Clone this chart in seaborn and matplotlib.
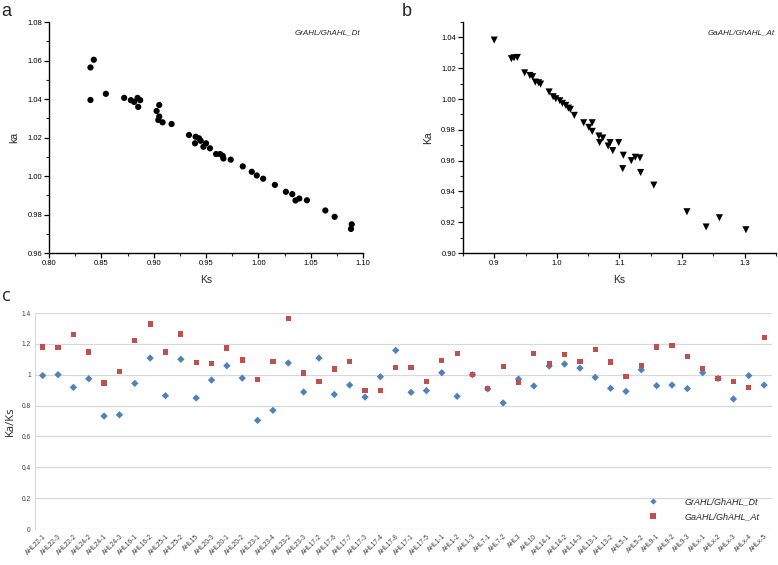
import numpy as np
import pandas as pd
import matplotlib
matplotlib.use("Agg")
import matplotlib.pyplot as plt
from matplotlib.ticker import MultipleLocator, FormatStrFormatter
import seaborn as sns

# panel a: GrAHL/GhAHL_Dt
ks_dt = [0.8396, 0.8428, 0.8396, 0.8543, 0.8718, 0.8782, 0.8814, 0.8846, 0.8871, 0.8852,
         0.9053, 0.9028, 0.9053, 0.9044, 0.9085, 0.9171, 0.9337, 0.9401, 0.9433, 0.9395,
         0.9449, 0.9500, 0.9475, 0.9538, 0.9596, 0.9634, 0.9660, 0.9666, 0.9736, 0.9851,
         0.9937, 0.9985, 1.0046, 1.0158, 1.0263, 1.0324, 1.0355, 1.0391, 1.0464, 1.0640,
         1.0729, 1.0892, 1.0885]
ka_dt = [1.0564, 1.0604, 1.0395, 1.0427, 1.0406, 1.0394, 1.0385, 1.0406, 1.0394, 1.0359,
         1.0369, 1.0338, 1.0309, 1.0291, 1.0279, 1.0270, 1.0213, 1.0204, 1.0196, 1.0170,
         1.0183, 1.0170, 1.0152, 1.0144, 1.0114, 1.0114, 1.0105, 1.0091, 1.0085, 1.0050,
         1.0022, 1.0003, 0.9986, 0.9954, 0.9918, 0.9906, 0.9873, 0.9883, 0.9874, 0.9821,
         0.9788, 0.9749, 0.9725]

# panel b: GaAHL/GhAHL_At
ks_at = [0.9000, 0.9275, 0.9317, 0.9370, 0.9487, 0.9571, 0.9614, 0.9656, 0.9709, 0.9741,
         0.9878, 0.9942, 0.9984, 1.0048, 1.0090, 1.0143, 1.0185, 1.0217, 1.0280, 1.0429,
         1.0513, 1.0566, 1.0566, 1.0672, 1.0683, 1.0735, 1.0820, 1.0852, 1.0894, 1.0989,
         1.1063, 1.1053, 1.1190, 1.1254, 1.1328, 1.1339, 1.1550, 1.2079, 1.2386, 1.2598,
         1.3021]
ka_at = [1.0383, 1.0262, 1.0268, 1.0270, 1.0170, 1.0153, 1.0145, 1.0110, 1.0106, 1.0097,
         1.0046, 1.0015, 1.0002, 0.9989, 0.9972, 0.9959, 0.9941, 0.9933, 0.9894, 0.9846,
         0.9816, 0.9846, 0.9790, 0.9760, 0.9717, 0.9747, 0.9695, 0.9717, 0.9665, 0.9717,
         0.9635, 0.9548, 0.9600, 0.9622, 0.9618, 0.9523, 0.9441, 0.9268, 0.9169, 0.9229,
         0.9151]

# panel c: Ka/Ks per gene
genes = ["AHL22-1", "AHL22-3", "AHL22-2", "AHL24-2", "AHL24-1", "AHL24-3", "AHL16-1", "AHL16-2",
         "AHL25-1", "AHL25-2", "AHL15", "AHL20-3", "AHL20-1", "AHL20-2", "AHL23-1", "AHL23-4",
         "AHL23-2", "AHL23-3", "AHL17-2", "AHL17-6", "AHL17-7", "AHL17-3", "AHL17-4", "AHL17-8",
         "AHL17-1", "AHL17-5", "AHL1-1", "AHL1-2", "AHL1-3", "AHL7-1", "AHL7-2", "AHL3",
         "AHL10", "AHL14-1", "AHL14-2", "AHL14-3", "AHL13-1", "AHL13-2", "AHL5-1", "AHL5-2",
         "AHL9-1", "AHL9-2", "AHL9-3", "AHLx-1", "AHLx-2", "AHLx-3", "AHLx-4", "AHLx-5"]
ratio_dt = [0.995, 1.000, 0.918, 0.974, 0.732, 0.740, 0.944, 1.108, 0.864, 1.100,
            0.849, 0.965, 1.058, 0.978, 0.704, 0.769, 1.076, 0.888, 1.108, 0.872,
            0.933, 0.855, 0.987, 1.158, 0.886, 0.897, 1.013, 0.860, 1.000, 0.908,
            0.817, 0.972, 0.927, 1.056, 1.069, 1.043, 0.983, 0.912, 0.892, 1.032,
            0.929, 0.933, 0.910, 1.013, 0.976, 0.843, 0.994, 0.933]
ratio_at = [1.180, 1.177, 1.260, 1.147, 0.946, 1.020, 1.223, 1.329, 1.147, 1.264,
            1.080, 1.073, 1.173, 1.095, 0.968, 1.084, 1.363, 1.011, 0.955, 1.037,
            1.086, 0.896, 0.896, 1.048, 1.049, 0.958, 1.092, 1.138, 1.000, 0.910,
            1.052, 0.948, 1.140, 1.069, 1.133, 1.084, 1.166, 1.082, 0.991, 1.060,
            1.180, 1.190, 1.118, 1.040, 0.976, 0.955, 0.918, 1.239]

sns.set_style("white")
plt.rcParams['font.family'] = ['Liberation Sans', 'DejaVu Sans']

fig = plt.figure(figsize=(7.78, 5.65), dpi=100)
ax_a = fig.add_axes([0.063, 0.5522, 0.4036, 0.4088])
ax_b = fig.add_axes([0.595, 0.5522, 0.4023, 0.4088])
ax_c = fig.add_axes([0.045, 0.0637, 0.947, 0.3823])


def style_scatter_axes(ax):
    for side in ["top", "right"]:
        ax.spines[side].set_visible(False)
    for side in ["left", "bottom"]:
        ax.spines[side].set_color("black")
        ax.spines[side].set_linewidth(1.0)
    ax.tick_params(which="major", direction="out", length=3.5, width=0.9,
                   labelsize=5.5, colors="black", left=True, bottom=True, pad=1.5)
    ax.tick_params(which="minor", direction="out", length=2, width=0.8,
                   left=True, bottom=True)


sns.scatterplot(x=ks_dt, y=ka_dt, ax=ax_a, color="black", marker="o", s=20,
                edgecolor="none", linewidth=0)
ax_a.set_xlim(0.80, 1.10)
ax_a.set_ylim(0.96, 1.08)
ax_a.xaxis.set_major_locator(MultipleLocator(0.05))
ax_a.xaxis.set_minor_locator(MultipleLocator(0.025))
ax_a.yaxis.set_major_locator(MultipleLocator(0.02))
ax_a.yaxis.set_minor_locator(MultipleLocator(0.01))
ax_a.xaxis.set_major_formatter(FormatStrFormatter("%.2f"))
ax_a.yaxis.set_major_formatter(FormatStrFormatter("%.2f"))
ax_a.set_xlabel("Ks", fontsize=7.5, labelpad=6)
ax_a.set_ylabel("ka", fontsize=7.5, labelpad=6)
style_scatter_axes(ax_a)
ax_a.text(0.99, 0.97, "GrAHL/GhAHL_Dt", transform=ax_a.transAxes, ha="right", va="top",
          fontsize=5.8, style="italic")

sns.scatterplot(x=ks_at, y=ka_at, ax=ax_b, color="black", marker="v", s=26,
                edgecolor="none", linewidth=0)
ax_b.set_xlim(0.85, 1.35)
ax_b.set_ylim(0.90, 1.05)
ax_b.xaxis.set_major_locator(MultipleLocator(0.1))
ax_b.xaxis.set_minor_locator(MultipleLocator(0.05))
ax_b.yaxis.set_major_locator(MultipleLocator(0.02))
ax_b.yaxis.set_minor_locator(MultipleLocator(0.01))
ax_b.xaxis.set_major_formatter(FormatStrFormatter("%.1f"))
ax_b.yaxis.set_major_formatter(FormatStrFormatter("%.2f"))
ax_b.set_xlabel("Ks", fontsize=7.5, labelpad=6)
ax_b.set_ylabel("Ka", fontsize=7.5, labelpad=6)
style_scatter_axes(ax_b)
ax_b.text(0.995, 0.97, "GaAHL/GhAHL_At", transform=ax_b.transAxes, ha="right", va="top",
          fontsize=5.8, style="italic")

# panel c
df_c = pd.DataFrame({
    "Gene": genes * 2,
    "Ratio": ratio_dt + ratio_at,
    "Pair": ["GrAHL/GhAHL_Dt"] * len(genes) + ["GaAHL/GhAHL_At"] * len(genes),
})
ax_c.yaxis.grid(True, color="#d9d9d9", linewidth=0.9)
ax_c.set_axisbelow(True)
sns.scatterplot(data=df_c, x="Gene", y="Ratio", hue="Pair", style="Pair",
                markers={"GrAHL/GhAHL_Dt": "D", "GaAHL/GhAHL_At": "s"},
                palette={"GrAHL/GhAHL_Dt": "#4F81BD", "GaAHL/GhAHL_At": "#C0504D"},
                s=14, edgecolor="none", linewidth=0, ax=ax_c, legend=False)
ax_c.set_xlim(-0.5, len(genes) - 0.5)
ax_c.set_ylim(0, 1.4)
ax_c.set_yticks([0, 0.2, 0.4, 0.6, 0.8, 1.0, 1.2, 1.4])
ax_c.set_yticklabels(["0", "0.2", "0.4", "0.6", "0.8", "1", "1.2", "1.4"])
ax_c.set_xticks(range(len(genes)))
ax_c.set_xticklabels(genes, rotation=45, ha="right", rotation_mode="anchor")
ax_c.tick_params(axis="both", length=0, labelsize=4.8, colors="#404040", pad=3)
for side in ["top", "right", "bottom"]:
    ax_c.spines[side].set_visible(False)
ax_c.spines["left"].set_color("#d9d9d9")
ax_c.set_xlabel("")
ax_c.set_ylabel("Ka/Ks", fontsize=8, fontfamily="Open Sans", labelpad=4)

from matplotlib.lines import Line2D
handles = [
    Line2D([], [], linestyle="none", marker="D", markersize=3.2, color="#4F81BD", markeredgewidth=0),
    Line2D([], [], linestyle="none", marker="s", markersize=4.0, color="#C0504D", markeredgewidth=0),
]
labels = ["GrAHL/GhAHL_Dt", "GaAHL/GhAHL_At"]
leg = ax_c.legend(handles, labels, loc="lower right", bbox_to_anchor=(0.995, 0.0),
                  frameon=False, fontsize=6.5, handletextpad=2.5, labelspacing=0.6)
for t in leg.get_texts():
    t.set_fontstyle("italic")

fig.text(0.002, 0.995, "a", fontsize=13, va="top", ha="left")
fig.text(0.516, 0.995, "b", fontsize=13, va="top", ha="left")
fig.text(0.002, 0.492, "c", fontsize=13, va="top", ha="left", fontfamily="Open Sans")

fig.savefig("out.png", dpi=100)
